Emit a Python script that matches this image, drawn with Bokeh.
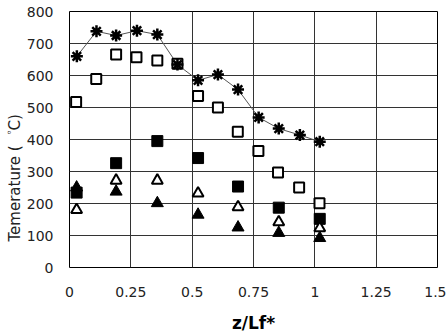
from bokeh.plotting import figure
from bokeh.models import Range1d, FixedTicker, Title
from bokeh.embed import file_html
from bokeh.resources import INLINE

# Data
star_x = [0.03, 0.11, 0.19, 0.275, 0.358, 0.44, 0.524, 0.605, 0.687, 0.771, 0.853, 0.939, 1.02]
star_y = [660, 738, 725, 740, 728, 634, 585, 603, 556, 469, 434, 414, 393]

osq_x = [0.027, 0.109, 0.19, 0.273, 0.358, 0.44, 0.524, 0.605, 0.686, 0.77, 0.85, 0.936, 1.019]
osq_y = [517, 589, 666, 657, 647, 637, 536, 500, 424, 364, 297, 250, 201]

fsq_x = [0.029, 0.19, 0.358, 0.524, 0.687, 0.853, 1.02]
fsq_y = [234, 326, 395, 342, 253, 187, 152]

otri_x = [0.029, 0.19, 0.358, 0.524, 0.687, 0.853, 1.02]
otri_y = [180, 272, 272, 232, 189, 142, 123]

ftri_x = [0.029, 0.19, 0.358, 0.524, 0.687, 0.853, 1.02]
ftri_y = [250, 237, 201, 165, 125, 108, 92]

x_ticks = [0, 0.25, 0.5, 0.75, 1, 1.25, 1.5]
x_tick_labels = ["0", "0.25", "0.5", "0.75", "1", "1.25", "1.5"]
y_ticks = [0, 100, 200, 300, 400, 500, 600, 700, 800]

p = figure(width=446, height=335, output_backend="svg", toolbar_location=None,
           x_range=Range1d(0, 1.5), y_range=Range1d(0, 800),
           min_border_left=69, min_border_right=9, min_border_top=11, min_border_bottom=67)
p.background_fill_color = "white"
p.border_fill_color = "white"
p.outline_line_color = "black"
p.outline_line_width = 1

for ax in (p.xaxis[0], p.yaxis[0]):
    ax.axis_line_color = None
    ax.major_tick_line_color = None
    ax.minor_tick_line_color = None
    ax.major_tick_out = 0
    ax.major_tick_in = 0
    ax.major_label_text_font = "DejaVu Sans"
    ax.major_label_text_font_size = "14px"
    ax.major_label_text_color = "#222222"

p.xaxis[0].ticker = FixedTicker(ticks=x_ticks)
p.xaxis[0].major_label_overrides = {t: l for t, l in zip(x_ticks, x_tick_labels)}
p.xaxis[0].major_label_standoff = 19
p.xaxis[0].axis_label = "z/Lf*"
p.xaxis[0].axis_label_text_font = "DejaVu Sans"
p.xaxis[0].axis_label_text_font_size = "17px"
p.xaxis[0].axis_label_text_font_style = "bold"
p.xaxis[0].axis_label_text_color = "black"
p.xaxis[0].axis_label_standoff = 13

p.yaxis[0].ticker = FixedTicker(ticks=y_ticks)
p.yaxis[0].major_label_standoff = 16

for g in (p.xgrid[0], p.ygrid[0]):
    g.grid_line_color = "#333333"
    g.grid_line_width = 1
    g.grid_line_alpha = 1.0

# series
p.line(star_x, star_y, line_color="#555555", line_width=1)
p.scatter(osq_x, osq_y, marker="square", size=10, fill_color="white", line_color="black", line_width=2)
p.scatter(fsq_x, fsq_y, marker="square", size=11, fill_color="black", line_color="black", line_width=1)
p.scatter(otri_x, otri_y, marker="triangle", size=11, fill_color="white", line_color="black", line_width=2)
p.scatter(ftri_x, ftri_y, marker="triangle", size=12, fill_color="black", line_color="black", line_width=1)
p.scatter(star_x, star_y, marker="asterisk", size=12, line_color="black", line_width=2.5)

ytitle = Title(text="Temerature (゜C)", align="left", offset=26,
               text_font="DejaVu Sans", text_font_size="15px",
               text_font_style="normal", text_color="#222222", standoff=0)
p.add_layout(ytitle, "left")

open("out.html", "w").write(file_html(p, INLINE))
